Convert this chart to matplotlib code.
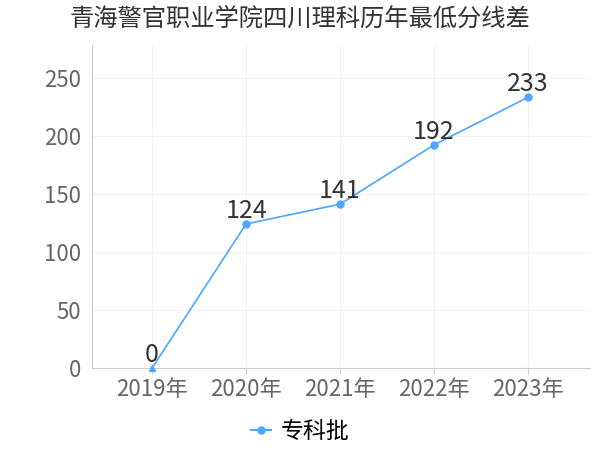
import matplotlib
matplotlib.use('Agg')
import matplotlib.pyplot as plt
from matplotlib.lines import Line2D

plt.rcParams['font.family'] = ['Noto Sans CJK SC', 'DejaVu Sans']

years = ['2019年', '2020年', '2021年', '2022年', '2023年']
scores = [0, 124, 141, 192, 233]
series_name = '专科批'
title = '青海警官职业学院四川理科历年最低分线差'

color = '#4da6ff'

fig = plt.figure(figsize=(6, 4.5), dpi=100)
ax = fig.add_axes([92 / 600, 1 - 368 / 450, 498 / 600, 323 / 450])

x = list(range(len(years)))
ax.plot(x, scores, color=color, linewidth=1.2, zorder=3)
for i, v in enumerate(scores):
    marker = '^' if v == 0 else 'o'
    ax.plot(i, v, marker=marker, color=color, markersize=5, zorder=4, clip_on=False)
    ax.text(i, v, str(v), ha='center', va='bottom', fontsize=18, color='#333333')

ax.set_xlim(-0.64, 4.66)
ax.set_ylim(0, 278)
ax.set_yticks([0, 50, 100, 150, 200, 250])
ax.set_xticks(x)
ax.set_xticklabels(years)
ax.tick_params(axis='both', labelsize=16, colors='#666666', length=4)
ax.tick_params(axis='y', length=0, pad=8)
ax.tick_params(axis='x', color='#cccccc')
ax.grid(True, color='#f2f2f2', linewidth=0.8)
ax.set_axisbelow(True)
for s in ['top', 'right']:
    ax.spines[s].set_visible(False)
ax.spines['left'].set_color('#cccccc')
ax.spines['bottom'].set_color('#cccccc')

fig.text(0.5, 1 - 19 / 450, title, ha='center', va='center', fontsize=17.5, color='#333333')

handle = Line2D([0], [0], color=color, marker='o', markersize=5, linewidth=1.5)
fig.legend([handle], [series_name], loc='center', bbox_to_anchor=(0.5, 1 - 432 / 450),
           frameon=False, fontsize=16.5, handlelength=0.9, handletextpad=0.4)

fig.savefig('out.png', dpi=100)
